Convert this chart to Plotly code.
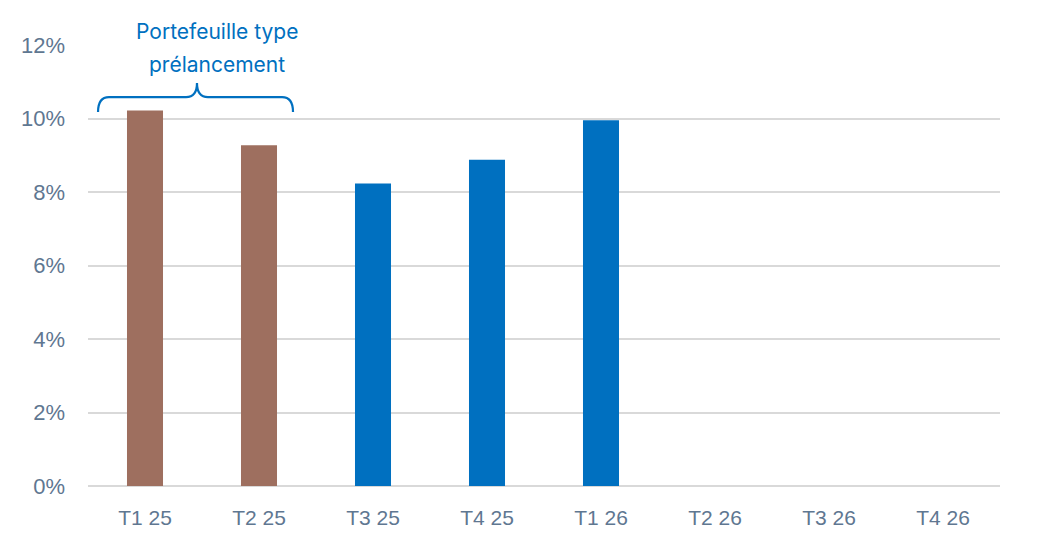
import plotly.graph_objects as go

trimestres = ["T1 25", "T2 25", "T3 25", "T4 25", "T1 26", "T2 26", "T3 26", "T4 26"]
taux = [10.22, 9.27, 8.23, 8.88, 9.95, None, None, None]
prelancement = [True, True, False, False, False, False, False, False]
y_ticks = [0, 2, 4, 6, 8, 10, 12]

brun = "#9e6f5f"
bleu = "#0070c0"
couleurs = [brun if p else bleu for p in prelancement]

fig = go.Figure()
fig.add_trace(go.Bar(
    x=trimestres,
    y=taux,
    marker=dict(color=couleurs, line=dict(width=0)),
    hoverinfo="x+y",
))

# accolade au-dessus des deux premiers trimestres (coordonnées papier)
x0, xm, x1 = 0.011, 0.1195, 0.2248
y_bas, y_mil, y_haut = 0.848, 0.882, 0.914
dx = 0.012
accolade = (
    f"M {x0},{y_bas} Q {x0},{y_mil} {x0 + dx},{y_mil} "
    f"L {xm - dx},{y_mil} Q {xm},{y_mil} {xm},{y_haut} "
    f"Q {xm},{y_mil} {xm + dx},{y_mil} "
    f"L {x1 - dx},{y_mil} Q {x1},{y_mil} {x1},{y_bas}"
)
fig.add_shape(type="path", path=accolade, xref="paper", yref="paper",
              line=dict(color=bleu, width=2.2))

fig.add_annotation(text="Portefeuille type", xref="paper", yref="paper",
                   x=0.141, y=1.03, showarrow=False, xanchor="center", yanchor="middle",
                   font=dict(family="Inter", size=21, color=bleu))
fig.add_annotation(text="prélancement", xref="paper", yref="paper",
                   x=0.141, y=0.955, showarrow=False, xanchor="center", yanchor="middle",
                   font=dict(family="Inter", size=21, color=bleu))

fig.update_layout(
    width=1044,
    height=558,
    margin=dict(l=80, r=52, t=37, b=80),
    paper_bgcolor="white",
    plot_bgcolor="white",
    bargap=0.684,
    showlegend=False,
    font=dict(family="Liberation Sans, Arial", size=21, color="#5f7791"),
)
fig.update_xaxes(
    showgrid=False,
    showline=False,
    zeroline=False,
    ticks="",
    ticklabelstandoff=17,
    tickfont=dict(size=21, color="#5f7791"),
)
fig.update_yaxes(
    range=[0, 12],
    tickvals=y_ticks,
    ticktext=[f"{v}%" for v in y_ticks],
    showgrid=True,
    gridcolor="#d9d9d9",
    gridwidth=1.5,
    zeroline=True,
    zerolinecolor="#d9d9d9",
    zerolinewidth=2,
    showline=False,
    ticks="",
    ticklabelstandoff=22,
    tickfont=dict(size=22, color="#5f7791"),
)

fig.write_html("out.html")
